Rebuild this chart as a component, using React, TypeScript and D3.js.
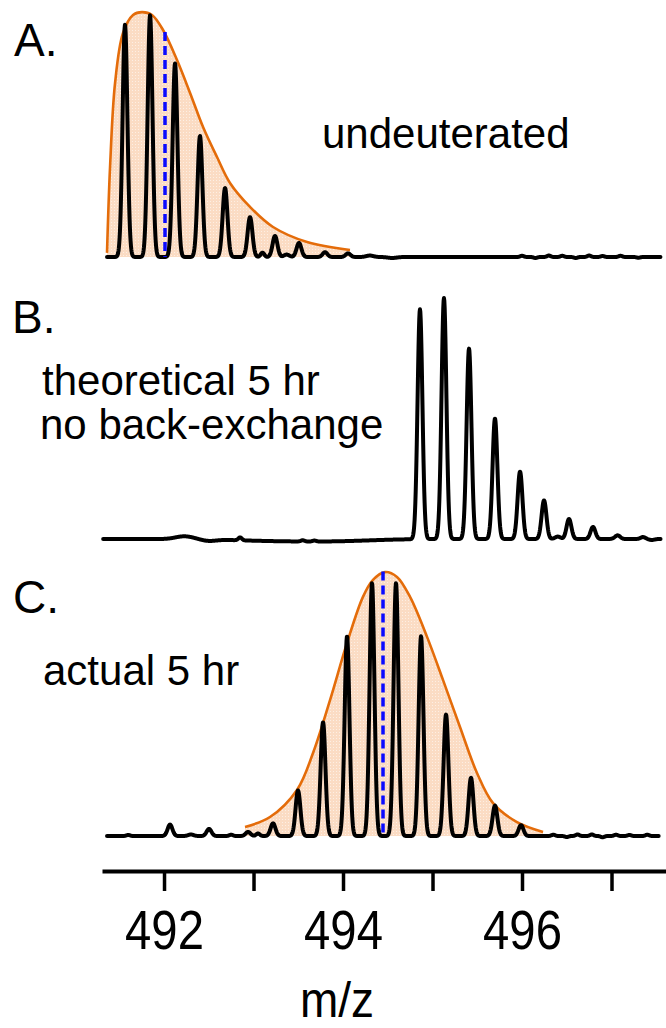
import React, { useRef, useEffect } from "react";
import * as d3 from "d3";

// m/z, relative intensity
const peaksA = [
  [491.564, 0.96], [491.844, 1.0], [492.123, 0.8], [492.402, 0.5], [492.682, 0.285],
  [492.961, 0.165], [493.24, 0.087], [493.508, 0.058], [493.799, 0.02], [494.056, 0.015],
];
const peaksB = [
  [494.86, 0.954], [495.128, 1.0], [495.408, 0.79], [495.698, 0.5], [495.978, 0.28],
  [496.246, 0.16], [496.525, 0.083], [496.793, 0.05], [497.073, 0.012], [497.352, 0.008],
];
const peaksC = [
  [492.067, 0.045], [492.503, 0.028], [492.939, 0.016], [493.218, 0.05], [493.497, 0.18],
  [493.777, 0.45], [494.045, 0.79], [494.324, 1.0], [494.592, 1.0], [494.872, 0.79],
  [495.151, 0.48], [495.43, 0.23], [495.698, 0.12], [495.989, 0.043],
];

// baseline wiggles: m/z, amplitude, width
const noiseA = [
  [493.1, 0.018, 0.02], [493.37, 0.01, 0.03], [494.3, 0.006, 0.04], [494.55, -0.004, 0.05],
  [496.0, 0.005, 0.02], [496.15, -0.004, 0.02], [496.3, 0.006, 0.02], [496.45, 0.005, 0.02],
  [496.6, -0.004, 0.02], [496.75, 0.006, 0.02], [496.9, 0.004, 0.02], [497.1, 0.005, 0.02],
  [497.3, -0.003, 0.02],
];
const noiseB = [
  [492.23, 0.012, 0.1], [492.5, -0.006, 0.08], [492.85, 0.012, 0.02], [493.3, -0.008, 0.5],
  [494.0, -0.006, 0.4], [493.55, 0.005, 0.02], [493.68, 0.004, 0.02], [496.4, 0.01, 0.03],
  [497.05, 0.004, 0.03], [497.45, -0.004, 0.03],
];
const noiseC = [
  [491.6, 0.004, 0.02], [492.3, 0.006, 0.03], [492.75, 0.005, 0.02], [493.05, 0.01, 0.02],
  [496.35, 0.005, 0.02], [496.5, -0.004, 0.02], [496.62, 0.006, 0.02], [496.78, 0.006, 0.02],
  [496.9, -0.005, 0.02], [497.05, 0.005, 0.02], [497.2, 0.004, 0.02], [497.4, 0.005, 0.02],
];

// fitted envelopes (m/z, relative height)
const envA = [
  [491.363, 0.017], [491.397, 0.372], [491.453, 0.719], [491.542, 0.926], [491.654, 1.0],
  [491.754, 1.012], [491.866, 1.0], [491.989, 0.938], [492.145, 0.814], [492.291, 0.678],
  [492.436, 0.537], [492.592, 0.413], [492.737, 0.306], [492.961, 0.207], [493.218, 0.124],
  [493.598, 0.062], [494.078, 0.029],
];
const envC = [
  [492.905, 0.036], [493.184, 0.075], [493.486, 0.182], [493.665, 0.328], [493.855, 0.537],
  [494.045, 0.763], [494.223, 0.945], [494.335, 1.012], [494.469, 1.043], [494.603, 1.024],
  [494.749, 0.945], [494.939, 0.787], [495.117, 0.617], [495.307, 0.431], [495.497, 0.249],
  [495.676, 0.13], [495.944, 0.055], [496.235, 0.016],
];

const centroidA = [492.011, 0.93];
const centroidC = [494.447, 1.045];

const tickValues = [492, 493, 494, 495, 496, 497];

const W = 666, H = 1028;
const FONT = "'Liberation Sans', Arial, sans-serif";
const SIGMA = 0.027;

const x = d3.scaleLinear().domain([491.307, 497.609]).range([102, 666]);

const panels = [
  { key: "A", peaks: peaksA, noise: noiseA, env: envA, cen: centroidA, base: 257, top: 15, from: 491.363, to: 497.55 },
  { key: "B", peaks: peaksB, noise: noiseB, env: null, cen: null, base: 539, top: 298, from: 491.32, to: 497.55 },
  { key: "C", peaks: peaksC, noise: noiseC, env: envC, cen: centroidC, base: 836, top: 583, from: 491.363, to: 497.53 },
];

function spectrum(p) {
  const pts = [];
  for (let m = p.from; m <= p.to; m += 0.004) {
    let v = 0;
    for (const [c, h] of p.peaks) v += h * Math.exp(-((m - c) ** 2) / (2 * SIGMA * SIGMA));
    for (const [c, h, s] of p.noise) v += h * Math.exp(-((m - c) ** 2) / (2 * s * s));
    pts.push([m, v]);
  }
  return pts;
}

const Panel = ({ p }) => {
  const y = d3.scaleLinear().domain([0, 1]).range([p.base, p.top]);
  const line = d3.line().x(d => x(d[0])).y(d => y(d[1]));
  const envPath = d3.line().x(d => x(d[0])).y(d => y(d[1])).curve(d3.curveCatmullRom);
  const envArea = d3.area().x(d => x(d[0])).y0(y(0)).y1(d => y(d[1])).curve(d3.curveCatmullRom);
  return (
    <g>
      {p.env && <path d={envArea(p.env)} fill="url(#dots)" stroke="none" />}
      {p.env && <path d={envPath(p.env)} fill="none" stroke="#e46c0a" strokeWidth={2.6} />}
      <path d={line(spectrum(p))} fill="none" stroke="#000" strokeWidth={4} strokeLinejoin="round" strokeLinecap="round" />
      {p.cen && (
        <line x1={x(p.cen[0])} x2={x(p.cen[0])} y1={y(p.cen[1])} y2={y(0)}
          stroke="#0a0aff" strokeWidth={3.5} strokeDasharray="9,5" />
      )}
    </g>
  );
};

const App = () => {
  const axisRef = useRef(null);

  useEffect(() => {
    const g = d3.select(axisRef.current);
    g.selectAll("*").remove();
    const axis = d3.axisBottom(x)
      .tickValues(tickValues)
      .tickFormat(d => (d % 2 === 0 ? String(d) : ""))
      .tickSize(20)
      .tickSizeOuter(0)
      .tickPadding(19);
    g.call(axis);
    g.select(".domain").attr("stroke", "#000").attr("stroke-width", 4);
    g.selectAll(".tick line").attr("stroke", "#000").attr("stroke-width", 3.5);
    g.selectAll(".tick text")
      .attr("fill", "#000")
      .attr("font-family", FONT)
      .attr("font-size", 55)
      .attr("transform", "scale(0.86,1)");
  });

  const txt = { fontFamily: FONT, fill: "#000" };
  const mzX = 337;

  return (
    <svg width={W} height={H} style={{ position: "absolute", left: 0, top: 0, background: "#fff" }}>
      <defs>
        <pattern id="dots" width="3" height="3" patternUnits="userSpaceOnUse">
          <rect width="3" height="3" fill="#fbdcc4" />
          <rect width="1" height="1" fill="#fff" opacity="0.55" />
        </pattern>
      </defs>
      <rect width={W} height={H} fill="#fff" />

      {panels.map(p => <Panel key={p.key} p={p} />)}

      <text x={14} y={56} fontSize={46} style={txt}>A.</text>
      <text x={12} y={333} fontSize={46} style={txt}>B.</text>
      <text x={13} y={613} fontSize={46} style={txt}>C.</text>

      <text x={322} y={148} fontSize={42} style={txt}>undeuterated</text>
      <text x={42} y={395} fontSize={42} style={txt}>theoretical 5 hr</text>
      <text x={40} y={439} fontSize={42} style={txt}>no back-exchange</text>
      <text x={43} y={685} fontSize={42} style={txt}>actual 5 hr</text>

      <g ref={axisRef} transform="translate(0,871)" />
      <text x={mzX} y={1017} fontSize={50} textAnchor="middle" style={txt}
        transform={`translate(${mzX},0) scale(0.92,1) translate(${-mzX},0)`}>m/z</text>
    </svg>
  );
};

export default App;
